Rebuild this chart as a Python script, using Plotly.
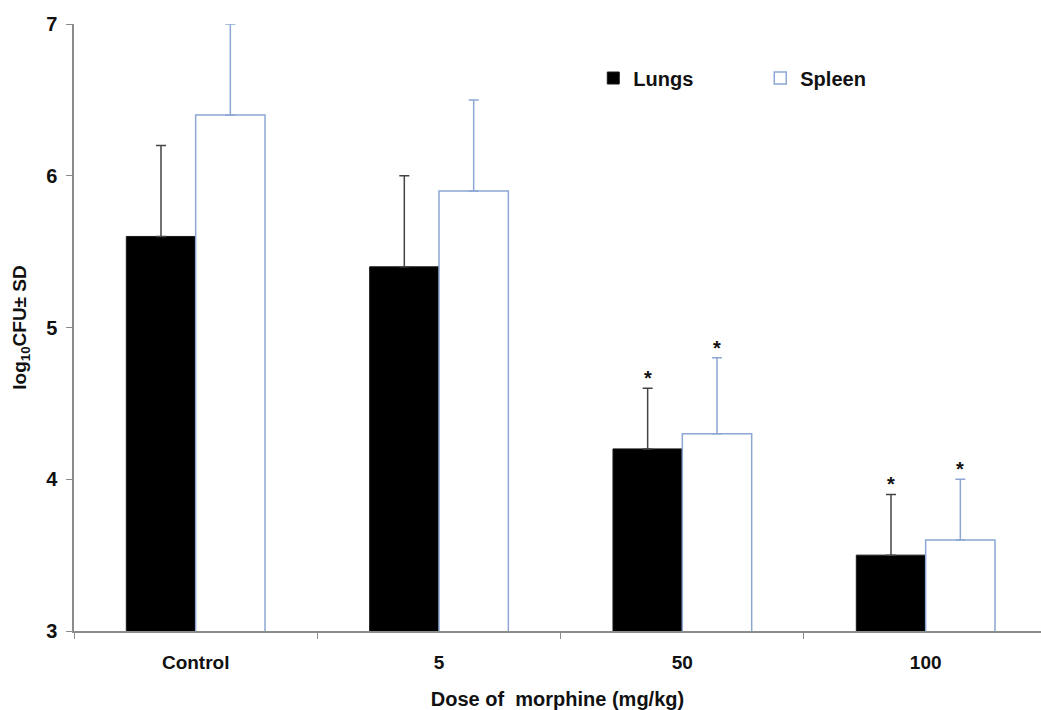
import plotly.graph_objects as go

categories = ["Control", "5", "50", "100"]
lungs_mean = [5.6, 5.4, 4.2, 3.5]
lungs_sd = [0.6, 0.6, 0.4, 0.4]
spleen_mean = [6.4, 5.9, 4.3, 3.6]
spleen_sd = [0.6, 0.6, 0.5, 0.4]
lungs_sig = [False, False, True, True]
spleen_sig = [False, False, True, True]
y_ticks = [3, 4, 5, 6, 7]

FONT = "Liberation Sans, Arial, sans-serif"
BLUE = "#8ca7d3"
BARGAP = 0.43

fig = go.Figure()
fig.add_trace(go.Bar(
    name="<b>Lungs</b>", x=categories, y=lungs_mean,
    marker=dict(color="#000000", line=dict(color="#1a1a1a", width=1)),
    error_y=dict(type="data", symmetric=False, array=lungs_sd,
                 arrayminus=[0] * len(lungs_sd), color="#444444",
                 thickness=1.5, width=5),
))
fig.add_trace(go.Bar(
    name="<b>Spleen</b>", x=categories, y=spleen_mean,
    marker=dict(color="#ffffff", line=dict(color=BLUE, width=1.5)),
    error_y=dict(type="data", symmetric=False, array=spleen_sd,
                 arrayminus=[0] * len(spleen_sd), color=BLUE,
                 thickness=1.5, width=5),
))

# significance stars above error bars
half = (1 - BARGAP) / 4
for i, c in enumerate(categories):
    for mean, sd, sig, off in ((lungs_mean, lungs_sd, lungs_sig, -half),
                               (spleen_mean, spleen_sd, spleen_sig, half)):
        if sig[i]:
            fig.add_annotation(x=i + off, y=mean[i] + sd[i], xref="x", yref="y",
                               text="<b>*</b>", showarrow=False, yanchor="bottom",
                               yshift=-3, font=dict(family=FONT, size=20, color="#111111"))

fig.update_layout(
    width=1041, height=710,
    margin=dict(l=74, r=0, t=24, b=79),
    paper_bgcolor="white", plot_bgcolor="white",
    barmode="group", bargap=BARGAP, bargroupgap=0,
    font=dict(family=FONT, color="#111111"),
    legend=dict(orientation="h", x=0.537, y=0.911, xanchor="left", yanchor="middle",
                font=dict(family=FONT, size=20, color="#111111"),
                entrywidth=122, entrywidthmode="pixels", bgcolor="rgba(0,0,0,0)"),
    xaxis=dict(
        type="category", range=[-0.5, 3.474], automargin=False,
        showline=True, linecolor="#8c8c8c", linewidth=1.5,
        ticks="outside", tickson="boundaries", ticklen=6, tickcolor="#8c8c8c",
        tickfont=dict(family=FONT, size=19, color="#111111"),
        ticklabelstandoff=13,
        tickvals=categories, ticktext=["<b>%s</b>" % c for c in categories],
        showgrid=False, zeroline=False,
        title=dict(text="<b>Dose of  morphine (mg/kg)</b>", standoff=22,
                   font=dict(family=FONT, size=20, color="#111111")),
    ),
    yaxis=dict(
        range=[3, 7], automargin=False,
        showline=True, linecolor="#8c8c8c", linewidth=1.5,
        ticks="outside", ticklen=6, tickcolor="#8c8c8c",
        tickfont=dict(family=FONT, size=20, color="#111111"),
        ticklabelstandoff=5,
        tickvals=y_ticks, ticktext=["<b>%d</b>" % v for v in y_ticks],
        showgrid=False, zeroline=False,
        title=dict(text="<b>log<sub>10</sub>CFU± SD</b>", standoff=14,
                   font=dict(family=FONT, size=19, color="#111111")),
    ),
)

fig.write_html("out.html", config={"displayModeBar": False},
               post_script="document.body.style.margin='0';")
